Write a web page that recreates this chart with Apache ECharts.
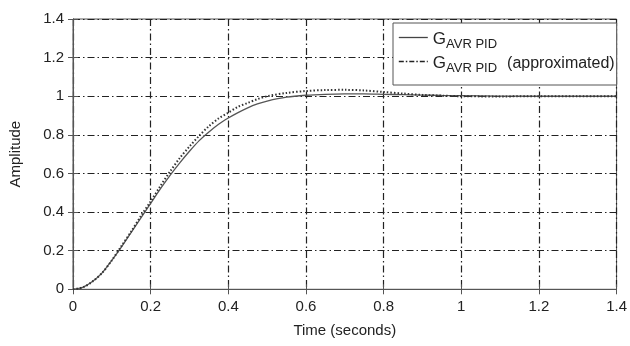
<!DOCTYPE html>
<html>
<head>
<meta charset="utf-8">
<script src="https://cdn.jsdelivr.net/npm/echarts@6/dist/echarts.min.js"></script>
<style>
  html, body { margin: 0; padding: 0; background: #fff; }
  #chart { width: 630px; height: 346px; }
</style>
</head>
<body>
<div id="chart"></div>
<script>
// time samples (seconds)
var times = [0, 0.025, 0.05, 0.075, 0.1, 0.125, 0.15, 0.175, 0.2, 0.225, 0.25, 0.275, 0.3, 0.325, 0.35, 0.375,
  0.4, 0.425, 0.45, 0.475, 0.5, 0.55, 0.6, 0.65, 0.7, 0.75, 0.8, 0.85, 0.9, 0.95, 1.0, 1.1, 1.2, 1.3, 1.4];
// G_AVR PID step response
var pidValues = [0, 0.01, 0.04, 0.085, 0.15, 0.22, 0.295, 0.37, 0.445, 0.52, 0.59, 0.655, 0.715, 0.77, 0.815, 0.855,
  0.887, 0.915, 0.94, 0.96, 0.975, 0.995, 1.005, 1.01, 1.012, 1.012, 1.01, 1.008, 1.006, 1.004, 1.003, 1.001, 1.0, 1.0, 1.0];
// G_AVR PID (approximated)
var approxValues = [0, 0.01, 0.04, 0.085, 0.15, 0.225, 0.3, 0.38, 0.455, 0.535, 0.61, 0.68, 0.74, 0.795, 0.845, 0.885,
  0.915, 0.945, 0.965, 0.985, 1.0, 1.017, 1.027, 1.032, 1.033, 1.03, 1.022, 1.014, 1.007, 1.003, 1.0, 0.999, 1.0, 1.0, 1.0];
var xTicks = [0, 0.2, 0.4, 0.6, 0.8, 1, 1.2, 1.4];
var yTicks = [0, 0.2, 0.4, 0.6, 0.8, 1, 1.2, 1.4];

function pairs(xs, ys) {
  return xs.map(function (x, i) { return [x, ys[i]]; });
}

var gridLine = { show: true, lineStyle: { color: '#222', width: 1.2, type: [7, 3, 1.5, 3] } };
var axisFont = { fontFamily: 'Liberation Sans, Arial', fontSize: 15, color: '#222' };
var richLegend = {
  g: { fontFamily: 'Liberation Sans, Arial', fontSize: 17, color: '#222', verticalAlign: 'bottom', lineHeight: 21 },
  s: { fontFamily: 'Liberation Sans, Arial', fontSize: 13, color: '#222', verticalAlign: 'bottom', lineHeight: 21, padding: [0, 0, -3, 0] },
  t: { fontFamily: 'Liberation Sans, Arial', fontSize: 16, color: '#222', verticalAlign: 'bottom', lineHeight: 21, padding: [0, 0, 0, 10] }
};

var chart = echarts.init(document.getElementById('chart'));
chart.setOption({
  backgroundColor: '#fff',
  animation: false,
  grid: { left: 70.5, right: 11, top: 19, bottom: 56.7, show: true, borderColor: '#555', borderWidth: 1 },
  legend: {
    orient: 'vertical',
    left: 393,
    top: 23,
    padding: [8, 2, 10, 5],
    itemGap: 4,
    itemWidth: 29,
    itemHeight: 14,
    backgroundColor: '#fff',
    borderColor: '#555',
    borderWidth: 1,
    borderRadius: 0,
    itemStyle: { color: 'rgba(0,0,0,0)', borderWidth: 0, opacity: 0 },
    data: [
      { name: 'pid', lineStyle: { type: 'solid', width: 1.3, color: '#444' } },
      { name: 'approx', lineStyle: { type: [5, 2, 1.5, 2], width: 1.6, color: '#222' } }
    ],
    formatter: function (name) {
      return name === 'pid' ? '{g|G}{s|AVR PID}' : '{g|G}{s|AVR PID}{t|(approximated)}';
    },
    textStyle: { rich: richLegend }
  },
  xAxis: [{
    type: 'value',
    min: 0, max: 1.4, interval: 0.2,
    name: 'Time (seconds)',
    nameLocation: 'middle',
    nameGap: 34,
    nameTextStyle: axisFont,
    axisLine: { show: true, onZero: false, lineStyle: { color: '#555' } },
    axisTick: { show: true, inside: true, length: 5, lineStyle: { color: '#555' } },
    axisLabel: Object.assign({ margin: 10, formatter: function (v) { return xTicks.indexOf(+v.toFixed(1)) >= 0 ? String(+v.toFixed(1)) : ''; } }, axisFont),
    splitLine: gridLine
  }, {
    type: 'value', position: 'top',
    min: 0, max: 1.4, interval: 0.2,
    axisLine: { show: true, lineStyle: { color: '#555' } },
    axisTick: { show: true, inside: true, length: 5, lineStyle: { color: '#555' } },
    axisLabel: { show: false },
    splitLine: { show: false }
  }],
  yAxis: [{
    type: 'value',
    min: 0, max: 1.4, interval: 0.2,
    name: 'Amplitude',
    nameLocation: 'middle',
    nameGap: 50,
    nameTextStyle: axisFont,
    axisLine: { show: true, onZero: false, lineStyle: { color: '#555' } },
    axisTick: { show: true, inside: true, length: 5, lineStyle: { color: '#555' } },
    axisLabel: Object.assign({ margin: 9, formatter: function (v) { return yTicks.indexOf(+v.toFixed(1)) >= 0 ? String(+v.toFixed(1)) : ''; } }, axisFont),
    splitLine: gridLine
  }, {
    type: 'value', position: 'right',
    min: 0, max: 1.4, interval: 0.2,
    axisLine: { show: true, lineStyle: { color: '#555' } },
    axisTick: { show: true, inside: true, length: 5, lineStyle: { color: '#555' } },
    axisLabel: { show: false },
    splitLine: { show: false }
  }],
  series: [{
    name: 'pid',
    type: 'line',
    data: pairs(times, pidValues),
    smooth: 0.3,
    showSymbol: false,
    symbol: 'none',
    z: 3,
    lineStyle: { color: '#555', width: 1.3, type: 'solid' },
    itemStyle: { color: '#555' }
  }, {
    name: 'approx',
    type: 'line',
    data: pairs(times, approxValues),
    smooth: 0.3,
    showSymbol: false,
    symbol: 'none',
    z: 4,
    lineStyle: { color: '#333', width: 2, type: [1.5, 2] },
    itemStyle: { color: '#333' }
  }]
});
</script>
</body>
</html>
